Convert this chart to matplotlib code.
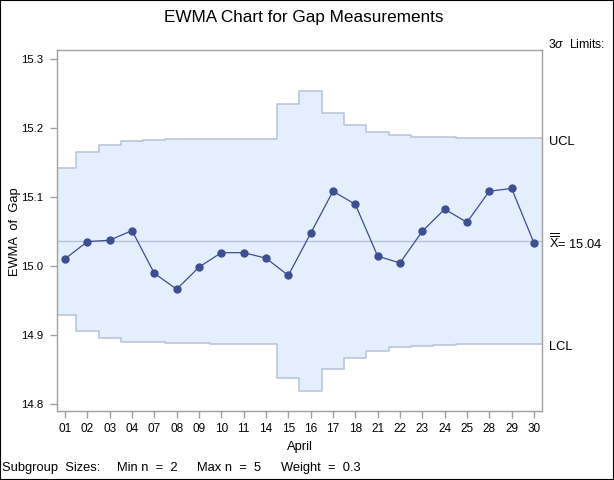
import matplotlib
matplotlib.use("Agg")
import matplotlib.pyplot as plt
from matplotlib.patches import Rectangle
import numpy as np

plt.rcParams['font.family'] = ['Liberation Sans', 'DejaVu Sans']
plt.rcParams['mathtext.fontset'] = 'custom'
plt.rcParams['mathtext.rm'] = 'Liberation Sans'
plt.rcParams['mathtext.it'] = 'Liberation Sans:italic'

days = ['01', '02', '03', '04', '07', '08', '09', '10', '11', '14', '15',
        '16', '17', '18', '21', '22', '23', '24', '25', '28', '29', '30']
ewma = [15.010, 15.035, 15.037, 15.051, 14.989, 14.966, 14.998, 15.019,
        15.019, 15.011, 14.986, 15.047, 15.108, 15.089, 15.014, 15.004,
        15.050, 15.082, 15.063, 15.108, 15.112, 15.033]
ucl = [15.142, 15.165, 15.175, 15.181, 15.182, 15.183, 15.183, 15.184,
       15.184, 15.184, 15.234, 15.253, 15.221, 15.204, 15.194, 15.189,
       15.187, 15.186, 15.185, 15.185, 15.185, 15.185]
lcl = [14.929, 14.906, 14.896, 14.890, 14.889, 14.888, 14.888, 14.887,
       14.887, 14.887, 14.837, 14.818, 14.850, 14.867, 14.877, 14.882,
       14.884, 14.885, 14.886, 14.886, 14.886, 14.886]
center = 15.0355
yticks = [14.8, 14.9, 15.0, 15.1, 15.2, 15.3]

W, H = 614, 480
fig = plt.figure(figsize=(W / 100, H / 100), dpi=100)
ax = fig.add_axes([57.3 / W, 1 - 410.7 / H, (542 - 57.3) / W, (410.7 - 50) / H])

n = len(days)
x = np.arange(n)
xlo, xhi = -0.345, n - 1 + 0.36
edges = np.concatenate([[xlo], np.arange(n - 1) + 0.5, [xhi]])
ucl_s = np.append(ucl, ucl[-1])
lcl_s = np.append(lcl, lcl[-1])

fill_c = '#E3EFFD'
lim_c = '#B7C2D6'
pt_c = '#3D4E92'

ax.fill_between(edges, lcl_s, ucl_s, step='post', color=fill_c, lw=0, zorder=1)
ax.step(edges, ucl_s, where='post', color=lim_c, lw=1.1, zorder=2)
ax.step(edges, lcl_s, where='post', color=lim_c, lw=1.1, zorder=2)
ax.axhline(center, color=lim_c, lw=1.0, zorder=2)
ax.plot(x, ewma, color=pt_c, lw=0.9, marker='o', ms=5, mec=pt_c, mfc=pt_c, zorder=3)

ax.set_xlim(xlo, xhi)
ax.set_ylim(14.79, 15.3126)
ax.set_xticks(x)
ax.set_xticklabels(days, fontsize=8.5)
ax.set_yticks(yticks)
ax.set_yticklabels([f'{v:.1f}' for v in yticks], fontsize=8.2)
for s in ax.spines.values():
    s.set_color('#A0A0A0')
    s.set_linewidth(1.0)
ax.tick_params(axis='both', colors='#A0A0A0', labelcolor='black',
               length=5, width=1.0, direction='out')
ax.tick_params(axis='x', pad=4)
ax.tick_params(axis='y', pad=5)
ax.set_xlabel('April', fontsize=9.3, labelpad=4)

fig.text(15 / W, 1 - 232 / H, 'EWMA  of  Gap', rotation=90, ha='center', va='center', fontsize=9.3)
fig.text(304 / W, 1 - 17.5 / H, 'EWMA Chart for Gap Measurements', ha='center', va='center', fontsize=12.3)
fig.text(548 / W, 1 - 44 / H, r'3$\it{\sigma}$  Limits:', ha='left', va='center', fontsize=8.8)
fig.text(549 / W, 1 - 142 / H, 'UCL', ha='left', va='center', fontsize=9.3)
fig.text(549 / W, 1 - 242 / H, r'$\overline{\overline{\mathrm{X}}}$= 15.04', ha='left', va='center', fontsize=9.3)
fig.text(549 / W, 1 - 347 / H, 'LCL', ha='left', va='center', fontsize=9.3)

ty = 1 - 468 / H
fig.text(2 / W, ty, 'Subgroup  Sizes:', ha='left', va='center', fontsize=9.3)
fig.text(117 / W, ty, 'Min n  =  2', ha='left', va='center', fontsize=9.3)
fig.text(197 / W, ty, 'Max n  =  5', ha='left', va='center', fontsize=9.3)
fig.text(281 / W, ty, 'Weight  =  0.3', ha='left', va='center', fontsize=9.3)

fig.patches.append(Rectangle((0, 0), 1, 1, transform=fig.transFigure, fill=False,
                             edgecolor='black', lw=1.5, zorder=10))

fig.savefig('out.png', dpi=100)
